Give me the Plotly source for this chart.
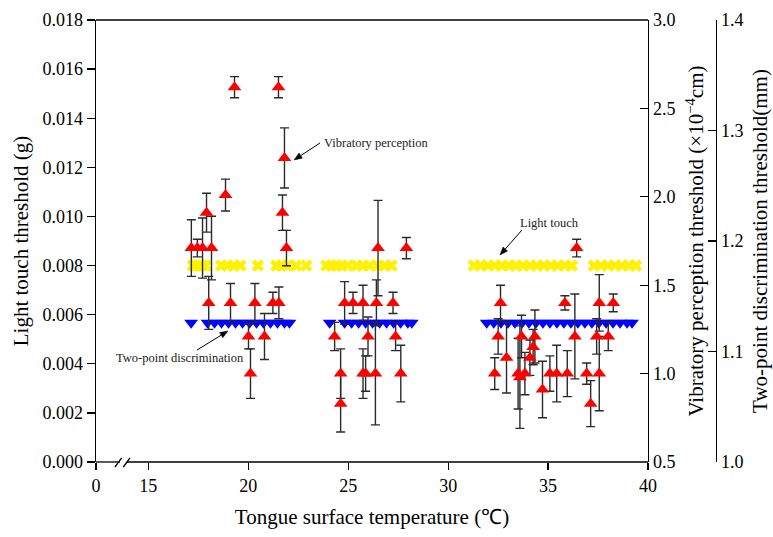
import math
import plotly.graph_objects as go

# ---------------- data ----------------
# Light touch threshold (g), left axis
lt_temp = [17.22, 17.39, 17.56, 17.72, 17.89, 18.64, 18.96, 19.26, 19.61, 20.48,
           21.40, 21.65, 21.96, 22.40, 22.90,
           23.90, 24.17, 24.42, 24.67, 24.97, 25.42, 25.72, 26.07, 26.47, 26.82, 27.17,
           31.28, 31.63, 31.98, 32.33, 32.69, 33.04, 33.39, 33.74, 34.09, 34.44,
           34.79, 35.14, 35.49, 35.84, 36.19,
           37.29, 37.65, 37.99, 38.35, 38.70, 39.05, 39.40]
lt_val = [0.008, 0.008, 0.008, 0.008, 0.008, 0.008, 0.008, 0.008, 0.008, 0.008,
          0.008, 0.008, 0.008, 0.008, 0.008,
          0.008, 0.008, 0.008, 0.008, 0.008, 0.008, 0.008, 0.008, 0.008, 0.008, 0.008,
          0.008, 0.008, 0.008, 0.008, 0.008, 0.008, 0.008, 0.008, 0.008, 0.008,
          0.008, 0.008, 0.008, 0.008, 0.008,
          0.008, 0.008, 0.008, 0.008, 0.008, 0.008, 0.008]

# Two-point discrimination threshold (mm), outer right axis
tp_temp = [17.14, 17.96, 18.31, 18.66, 19.01, 19.36, 19.71, 20.06, 20.41, 20.76,
           21.11, 21.46, 21.81, 22.06,
           24.07, 24.82, 25.17, 25.52, 25.87, 26.22, 26.57, 26.92, 27.27, 27.62,
           27.98, 28.18,
           31.93, 32.28, 32.64, 32.99, 33.34, 33.69, 34.04, 34.39, 34.74, 35.09,
           35.44, 35.79, 36.14, 36.49, 36.84, 37.19, 37.54, 37.90, 38.25, 38.60,
           38.95, 39.20]
tp_val = [1.126, 1.126, 1.126, 1.126, 1.126, 1.126, 1.126, 1.126, 1.126, 1.126,
          1.126, 1.126, 1.126, 1.126,
          1.126, 1.126, 1.126, 1.126, 1.126, 1.126, 1.126, 1.126, 1.126, 1.126,
          1.126, 1.126,
          1.126, 1.126, 1.126, 1.126, 1.126, 1.126, 1.126, 1.126, 1.126, 1.126,
          1.126, 1.126, 1.126, 1.126, 1.126, 1.126, 1.126, 1.126, 1.126, 1.126,
          1.126, 1.126]

# Vibratory perception threshold (x10^-4 cm), inner right axis
vp_temp = [19.31, 21.51, 21.81, 18.86, 17.91, 21.71, 17.15, 17.45, 17.71, 18.16,
           21.91, 18.02, 19.11, 20.33, 21.23, 21.53, 20.01, 20.81, 20.11,
           26.49, 27.91, 24.82, 25.24, 25.74, 26.41, 27.24, 24.32, 25.99, 27.37,
           24.62, 25.74, 25.87, 26.36, 27.63, 24.62,
           36.43, 32.62, 35.84, 37.56, 38.26, 32.50, 33.67, 34.34, 36.34, 37.43,
           38.01, 34.25, 32.92, 34.09, 32.33, 33.50, 33.84, 35.09, 35.43, 35.96,
           36.93, 37.56, 33.59, 34.72, 37.13]
vp_val = [2.62, 2.62, 2.22, 2.01, 1.91, 1.91, 1.71, 1.71, 1.71, 1.71,
          1.71, 1.40, 1.40, 1.40, 1.40, 1.40, 1.21, 1.21, 1.00,
          1.71, 1.71, 1.40, 1.40, 1.40, 1.40, 1.40, 1.21, 1.21, 1.21,
          1.00, 1.00, 1.00, 1.00, 1.00, 0.83,
          1.71, 1.40, 1.40, 1.40, 1.40, 1.21, 1.21, 1.21, 1.21, 1.21,
          1.21, 1.15, 1.09, 1.09, 1.00, 1.00, 1.00, 1.00, 1.00, 1.00,
          1.00, 1.00, 0.98, 0.91, 0.83]
vp_err = [0.06, 0.06, 0.17, 0.09, 0.11, 0.10, 0.16, 0.05, 0.17, 0.18,
          0.10, 0.15, 0.11, 0.11, 0.06, 0.09, 0.07, 0.13, 0.14,
          0.27, 0.06, 0.12, 0.06, 0.10, 0.13, 0.06, 0.08, 0.11, 0.08,
          0.14, 0.14, 0.10, 0.29, 0.16, 0.16,
          0.05, 0.10, 0.04, 0.16, 0.05, 0.10, 0.12, 0.15, 0.24, 0.10,
          0.08, 0.10, 0.20, 0.10, 0.09, 0.20, 0.12, 0.10, 0.16, 0.13,
          0.06, 0.21, 0.29, 0.16, 0.13]

x_tickvals = [12.38, 15, 20, 25, 30, 35, 40]
x_ticktext = ["0", "15", "20", "25", "30", "35", "40"]

FONT = "'Liberation Serif', 'Times New Roman', serif"
AX = dict(color="black", width=1.3)

fig = go.Figure()

fig.add_trace(go.Scatter(
    x=lt_temp, y=lt_val, mode="markers", name="Light touch",
    marker=dict(symbol="x", size=11, color="#FFF200", line=dict(width=0)),
    yaxis="y"))

fig.add_trace(go.Scatter(
    x=tp_temp, y=tp_val, mode="markers", name="Two-point discrimination",
    marker=dict(symbol="triangle-down", size=12, color="#0000FF", line=dict(width=0)),
    yaxis="y2"))

fig.add_trace(go.Scatter(
    x=vp_temp, y=vp_val, mode="markers", name="Vibratory perception",
    marker=dict(symbol="triangle-up", size=12, color="#FF0000", line=dict(width=0)),
    error_y=dict(type="data", array=vp_err, visible=True, color="#2a2a2a",
                 thickness=1.4, width=4.5),
    yaxis="y3"))

tickfont = dict(family=FONT, size=18, color="black")
titlefont = dict(family=FONT, size=21, color="black")

fig.update_layout(
    width=773, height=537,
    margin=dict(l=96, r=40, t=20, b=75, autoexpand=False),
    paper_bgcolor="white", plot_bgcolor="white",
    showlegend=False,
    xaxis=dict(
        domain=[0, 0.8666], range=[12.38, 40], automargin=False,
        tickvals=x_tickvals, ticktext=x_ticktext,
        ticks="outside", ticklen=7, tickwidth=1.3, tickcolor="black",
        showline=False, showgrid=False, zeroline=False,
        tickfont=tickfont,
        title=dict(text="Tongue surface temperature (\u2103)", font=titlefont, standoff=14),
    ),
    yaxis=dict(
        range=[0, 0.018], dtick=0.002, tickformat=".3f", automargin=False,
        ticks="outside", ticklen=8, tickwidth=1.3, tickcolor="black",
        showline=True, linecolor="black", linewidth=1.3,
        showgrid=False, zeroline=False, tickfont=tickfont,
        title=dict(text="Light touch threshold (g)", font=titlefont, standoff=8),
    ),
    yaxis2=dict(
        overlaying="y", side="right", anchor="free", position=0.9733, automargin=False,
        range=[1.0, 1.4], dtick=0.1, tickformat=".1f",
        ticks="inside", ticklen=8, tickwidth=1.3, tickcolor="black",
        showline=True, linecolor="black", linewidth=1.3,
        showgrid=False, zeroline=False, tickfont=tickfont,
        title=dict(text="Two-point discrimination threshold(mm)", font=titlefont, standoff=10),
    ),
    yaxis3=dict(
        overlaying="y", side="right", anchor="x", automargin=False,
        range=[0.5, 3.0], dtick=0.5, tickformat=".1f",
        ticks="inside", ticklen=8, tickwidth=1.3, tickcolor="black",
        showline=True, linecolor="black", linewidth=1.3,
        showgrid=False, zeroline=False, tickfont=tickfont,
        title=dict(text="Vibratory perception threshold (\u00d710<sup>\u22124</sup>cm)",
                   font=titlefont, standoff=14),
    ),
)

# ---- plot-area pixel helpers for decorations ----
L0, R0, T0, B0 = 96.0, 733.0, 20.0, 462.0


def px(xp):
    return (xp - L0) / (R0 - L0)


def py(yp):
    return (B0 - yp) / (B0 - T0)


# frame: top line, broken bottom axis with break marks
shapes = [
    dict(type="line", xref="x domain", yref="y domain", x0=0, x1=1, y0=1, y1=1, line=AX),
    dict(type="line", xref="x domain", yref="y domain", x0=0, x1=0.0435, y0=0, y1=0, line=AX),
    dict(type="line", xref="x domain", yref="y domain", x0=0.0555, x1=1, y0=0, y1=0, line=AX),
    dict(type="line", xref="x domain", yref="y domain", x0=0.0344, x1=0.0465, y0=-0.0113, y1=0.0095, line=AX),
    dict(type="line", xref="x domain", yref="y domain", x0=0.0495, x1=0.0616, y0=-0.0113, y1=0.0095, line=AX),
]


def arrow(tail, head, length=8.0, half=3.0):
    tx, ty = tail
    hx, hy = head
    d = math.hypot(hx - tx, hy - ty)
    ux, uy = (hx - tx) / d, (hy - ty) / d
    bx, by = hx - ux * length, hy - uy * length
    nx, ny = -uy, ux
    p1 = (bx + nx * half, by + ny * half)
    p2 = (bx - nx * half, by - ny * half)
    out = [dict(type="line", xref="paper", yref="paper",
                x0=px(tx), y0=py(ty), x1=px(bx), y1=py(by),
                line=dict(color="black", width=1))]
    path = "M {:.5f} {:.5f} L {:.5f} {:.5f} L {:.5f} {:.5f} Z".format(
        px(hx), py(hy), px(p1[0]), py(p1[1]), px(p2[0]), py(p2[1]))
    out.append(dict(type="path", xref="paper", yref="paper", path=path,
                    fillcolor="black", line=dict(color="black", width=0.5)))
    return out


shapes += arrow((320, 143), (294, 160))
shapes += arrow((522, 230), (500, 255))
shapes += arrow((197, 350), (228, 331))
fig.update_layout(shapes=shapes)

afont = dict(family=FONT, size=12.5, color="#222222")
ann = [
    dict(xref="paper", yref="paper", x=px(322), y=py(142.5), text="Vibratory perception",
         showarrow=False, xanchor="left", yanchor="middle", font=afont),
    dict(xref="paper", yref="paper", x=px(549), y=py(223), text="Light touch",
         showarrow=False, xanchor="center", yanchor="middle", font=afont),
    dict(xref="paper", yref="paper", x=px(246), y=py(358), text="Two-point discrimination",
         showarrow=False, xanchor="right", yanchor="middle", font=afont),
]
fig.update_layout(annotations=ann)

fig.write_html("out.html",
               config={"displayModeBar": False, "staticPlot": True},
               post_script="document.body.style.margin='0px';document.body.style.overflow='hidden';")
